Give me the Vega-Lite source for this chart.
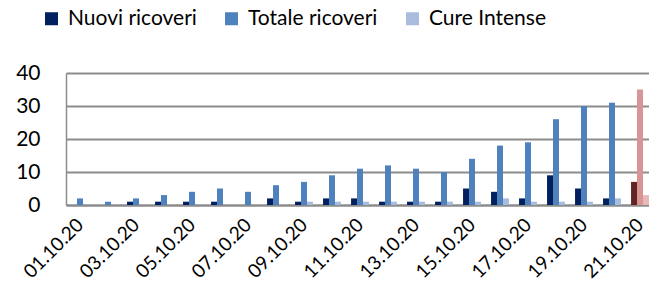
{
  "$schema": "https://vega.github.io/schema/vega-lite/v6.json",
  "width": 588,
  "height": 132,
  "autosize": "none",
  "padding": {"left": 66, "top": 73, "right": 0, "bottom": 101},
  "config": {"view": {"stroke": null}, "font": "Lato"},
  "data": {"values": [
    {"date": "01.10.20", "series": "Nuovi ricoveri", "value": 0},
    {"date": "01.10.20", "series": "Totale ricoveri", "value": 2},
    {"date": "01.10.20", "series": "Cure Intense", "value": 0},
    {"date": "02.10.20", "series": "Nuovi ricoveri", "value": 0},
    {"date": "02.10.20", "series": "Totale ricoveri", "value": 1},
    {"date": "02.10.20", "series": "Cure Intense", "value": 0},
    {"date": "03.10.20", "series": "Nuovi ricoveri", "value": 1},
    {"date": "03.10.20", "series": "Totale ricoveri", "value": 2},
    {"date": "03.10.20", "series": "Cure Intense", "value": 0},
    {"date": "04.10.20", "series": "Nuovi ricoveri", "value": 1},
    {"date": "04.10.20", "series": "Totale ricoveri", "value": 3},
    {"date": "04.10.20", "series": "Cure Intense", "value": 0},
    {"date": "05.10.20", "series": "Nuovi ricoveri", "value": 1},
    {"date": "05.10.20", "series": "Totale ricoveri", "value": 4},
    {"date": "05.10.20", "series": "Cure Intense", "value": 0},
    {"date": "06.10.20", "series": "Nuovi ricoveri", "value": 1},
    {"date": "06.10.20", "series": "Totale ricoveri", "value": 5},
    {"date": "06.10.20", "series": "Cure Intense", "value": 0},
    {"date": "07.10.20", "series": "Nuovi ricoveri", "value": 0},
    {"date": "07.10.20", "series": "Totale ricoveri", "value": 4},
    {"date": "07.10.20", "series": "Cure Intense", "value": 0},
    {"date": "08.10.20", "series": "Nuovi ricoveri", "value": 2},
    {"date": "08.10.20", "series": "Totale ricoveri", "value": 6},
    {"date": "08.10.20", "series": "Cure Intense", "value": 0},
    {"date": "09.10.20", "series": "Nuovi ricoveri", "value": 1},
    {"date": "09.10.20", "series": "Totale ricoveri", "value": 7},
    {"date": "09.10.20", "series": "Cure Intense", "value": 1},
    {"date": "10.10.20", "series": "Nuovi ricoveri", "value": 2},
    {"date": "10.10.20", "series": "Totale ricoveri", "value": 9},
    {"date": "10.10.20", "series": "Cure Intense", "value": 1},
    {"date": "11.10.20", "series": "Nuovi ricoveri", "value": 2},
    {"date": "11.10.20", "series": "Totale ricoveri", "value": 11},
    {"date": "11.10.20", "series": "Cure Intense", "value": 1},
    {"date": "12.10.20", "series": "Nuovi ricoveri", "value": 1},
    {"date": "12.10.20", "series": "Totale ricoveri", "value": 12},
    {"date": "12.10.20", "series": "Cure Intense", "value": 1},
    {"date": "13.10.20", "series": "Nuovi ricoveri", "value": 1},
    {"date": "13.10.20", "series": "Totale ricoveri", "value": 11},
    {"date": "13.10.20", "series": "Cure Intense", "value": 1},
    {"date": "14.10.20", "series": "Nuovi ricoveri", "value": 1},
    {"date": "14.10.20", "series": "Totale ricoveri", "value": 10},
    {"date": "14.10.20", "series": "Cure Intense", "value": 1},
    {"date": "15.10.20", "series": "Nuovi ricoveri", "value": 5},
    {"date": "15.10.20", "series": "Totale ricoveri", "value": 14},
    {"date": "15.10.20", "series": "Cure Intense", "value": 1},
    {"date": "16.10.20", "series": "Nuovi ricoveri", "value": 4},
    {"date": "16.10.20", "series": "Totale ricoveri", "value": 18},
    {"date": "16.10.20", "series": "Cure Intense", "value": 2},
    {"date": "17.10.20", "series": "Nuovi ricoveri", "value": 2},
    {"date": "17.10.20", "series": "Totale ricoveri", "value": 19},
    {"date": "17.10.20", "series": "Cure Intense", "value": 1},
    {"date": "18.10.20", "series": "Nuovi ricoveri", "value": 9},
    {"date": "18.10.20", "series": "Totale ricoveri", "value": 26},
    {"date": "18.10.20", "series": "Cure Intense", "value": 1},
    {"date": "19.10.20", "series": "Nuovi ricoveri", "value": 5},
    {"date": "19.10.20", "series": "Totale ricoveri", "value": 30},
    {"date": "19.10.20", "series": "Cure Intense", "value": 1},
    {"date": "20.10.20", "series": "Nuovi ricoveri", "value": 2},
    {"date": "20.10.20", "series": "Totale ricoveri", "value": 31},
    {"date": "20.10.20", "series": "Cure Intense", "value": 2},
    {"date": "21.10.20", "series": "Nuovi ricoveri", "value": 7},
    {"date": "21.10.20", "series": "Totale ricoveri", "value": 35},
    {"date": "21.10.20", "series": "Cure Intense", "value": 3}
  ]},
  "encoding": {
    "x": {
      "field": "date", "type": "nominal", "sort": null,
      "scale": {"paddingInner": 0.36, "paddingOuter": 0.18},
      "axis": {
        "title": null,
        "values": ["01.10.20","03.10.20","05.10.20","07.10.20","09.10.20","11.10.20","13.10.20","15.10.20","17.10.20","19.10.20","21.10.20"],
        "labelAngle": -45, "labelFontSize": 19, "labelColor": "#000000",
        "labelPadding": 10, "labelOffset": -6,
        "ticks": false, "domainColor": "#8c8c8c", "domainWidth": 2
      }
    },
    "xOffset": {"field": "series", "type": "nominal", "scale": {"domain": ["Nuovi ricoveri", "Totale ricoveri", "Cure Intense"]}},
    "y": {
      "field": "value", "type": "quantitative",
      "scale": {"domain": [0, 40]},
      "axis": {
        "title": null, "values": [0, 10, 20, 30, 40],
        "labelFontSize": 21, "labelColor": "#000000", "labelPadding": 26,
        "ticks": false, "grid": true, "gridColor": "#8c8c8c", "gridWidth": 2,
        "domain": true, "domainColor": "#8c8c8c", "domainWidth": 1.5
      }
    }
  },
  "layer": [
    {
      "transform": [{"filter": "datum.date !== '21.10.20'"}],
      "mark": {"type": "bar"},
      "encoding": {
        "color": {
          "field": "series", "type": "nominal",
          "scale": {"domain": ["Nuovi ricoveri", "Totale ricoveri", "Cure Intense"], "range": ["#002060", "#4f81bd", "#a9bcdd"]},
          "legend": {
            "title": null, "orient": "none", "legendX": -25, "legendY": -65,
            "direction": "horizontal", "symbolType": "square", "symbolSize": 169,
            "symbolStrokeWidth": 0, "labelFontSize": 21, "labelColor": "#000000",
            "labelOffset": 6, "columnPadding": 24
          }
        }
      }
    },
    {
      "transform": [{"filter": "datum.date === '21.10.20'"}],
      "mark": {"type": "bar"},
      "encoding": {
        "color": {
          "field": "series", "type": "nominal",
          "scale": {"domain": ["Nuovi ricoveri", "Totale ricoveri", "Cure Intense"], "range": ["#632523", "#d99594", "#e6b9b8"]},
          "legend": null
        }
      }
    }
  ],
  "resolve": {"scale": {"color": "independent"}}
}
